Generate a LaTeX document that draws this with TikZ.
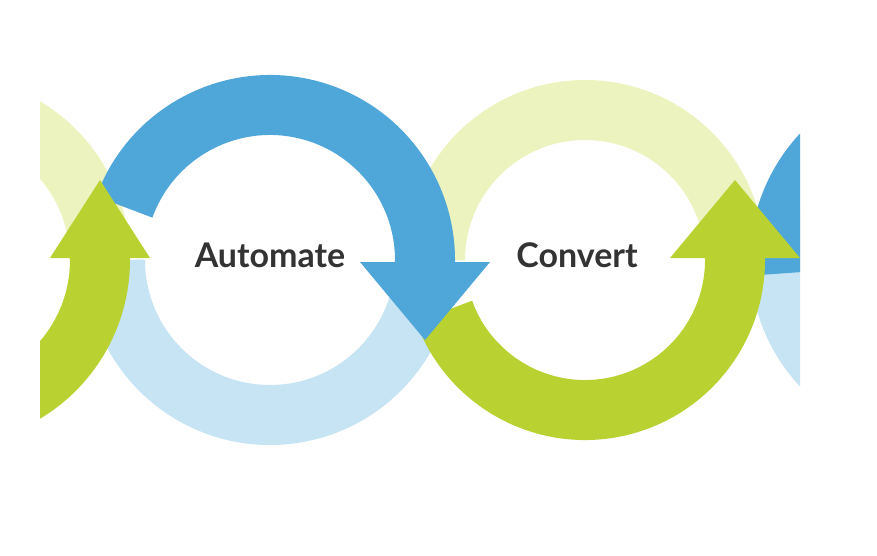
\documentclass[tikz,border=0pt]{standalone}
\usepackage{fontspec}
\setsansfont{Lato}
\usepackage{xcolor}
\definecolor{ringblue}{HTML}{4FA6D9}
\definecolor{ringpale}{HTML}{C6E4F4}
\definecolor{ringgreen}{HTML}{B9D232}
\definecolor{ringlime}{HTML}{ECF3BE}
\definecolor{labelgray}{HTML}{333333}
\tikzset{
  ring/.style={line width=1.8cm,line cap=butt},
  tip/.style={fill=#1,draw=none},
  word/.style={font=\sffamily\bfseries\fontsize{29}{32}\selectfont,text=labelgray}
}
\begin{document}
\begin{tikzpicture}[x=0.03cm,y=-0.03cm]
  \useasboundingbox (0,0) rectangle (877,555);
  \fill[white] (0,0) rectangle (877,555);
  \begin{scope}
    \clip (40,60) rectangle (800,460);
    % back halves (y points down, so 270 is the top)
    \draw[ring,ringlime] (-55,260) ++(180:155) arc[start angle=180,end angle=360,radius=155];
    \draw[ring,ringpale] (270,260) ++(0:155) arc[start angle=0,end angle=180,radius=155];
    \draw[ring,ringlime] (585,260) ++(180:150) arc[start angle=180,end angle=360,radius=150];
    \draw[ring,ringpale] (935,260) ++(100:155) arc[start angle=100,end angle=200,radius=155];
    % front arcs
    \draw[ring,ringblue] (935,260) ++(175:155) arc[start angle=175,end angle=235,radius=155];
    \draw[ring,ringgreen] (-55,260) ++(60:155) arc[start angle=60,end angle=-2,radius=155];
    \draw[ring,ringgreen] (585,260) ++(160:150) arc[start angle=160,end angle=-2,radius=150];
    \draw[ring,ringblue] (270,260) ++(200:155) arc[start angle=200,end angle=362,radius=155];
    % arrow tips
    \fill[tip=ringblue] (360,262) -- (490,262) -- (425,340) -- cycle;
    \fill[tip=ringgreen] (50,258) -- (150,258) -- (100,180) -- cycle;
    \fill[tip=ringgreen] (670,258) -- (800,258) -- (735,180) -- cycle;
  \end{scope}
  \node[word] (automate) at (270,255) {Automate};
  \node[word] (convert) at (577,255) {Convert};
\end{tikzpicture}
\end{document}
